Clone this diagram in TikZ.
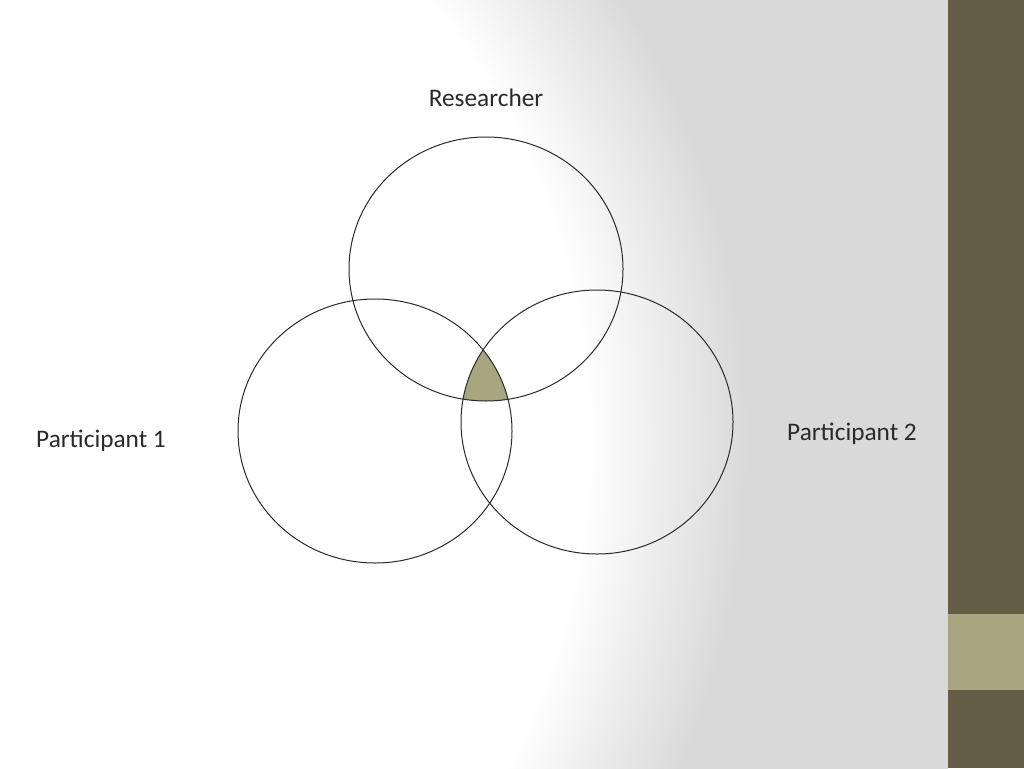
\documentclass[tikz,border=0pt]{standalone}
\usepackage{fontspec}
\setmainfont{Carlito}
\definecolor{bggray}{HTML}{D9D9D9}
\definecolor{bardark}{HTML}{665D47}
\definecolor{barlight}{HTML}{A9A57E}
\definecolor{ringline}{HTML}{2A2A2A}
\pgfdeclareradialshading{bgglow}{\pgfpoint{0bp}{0bp}}{color(0bp)=(white); color(13.2bp)=(white); color(16.3bp)=(bggray); color(50bp)=(bggray)}
\begin{document}
\begin{tikzpicture}[x=1pt,y=-1pt]
				\useasboundingbox (0,0) rectangle (1024,768);
				\fill[bggray] (0,0) rectangle (948,768);
				\begin{scope}
				\clip (0,0) rectangle (948,768);
				\shade[shading=bgglow] (-100,440) circle (1300pt);
				\end{scope}
				\fill[bardark] (948,0) rectangle (1024,768);
				\fill[barlight] (948,614) rectangle (1024,690);
				\begin{scope}
				\clip (486,269) ellipse [x radius=137pt, y radius=132pt];
				\clip (375,431) ellipse [x radius=137pt, y radius=132pt];
				\fill[barlight] (597,422) ellipse [x radius=136pt, y radius=132pt];
				\end{scope}
				\draw[ringline, line width=1pt] (486,269) ellipse [x radius=137pt, y radius=132pt];
				\draw[ringline, line width=1pt] (375,431) ellipse [x radius=137pt, y radius=132pt];
				\draw[ringline, line width=1pt] (597,422) ellipse [x radius=136pt, y radius=132pt];
				\node[anchor=base, text=ringline] (researcher) at (486,106.5) {\fontsize{25.3}{30}\selectfont Researcher};
				\node[anchor=base, text=ringline] (part1) at (101,447.5) {\fontsize{25.3}{30}\selectfont Participant 1};
				\node[anchor=base, text=ringline] (part2) at (852,440) {\fontsize{25.3}{30}\selectfont Participant 2};
				\end{tikzpicture}
\end{document}
